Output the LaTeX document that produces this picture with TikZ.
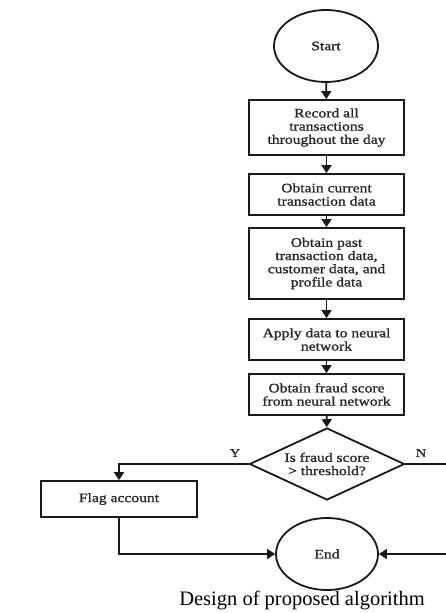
\documentclass[tikz,border=0pt]{standalone}
\usepackage{fontspec}
\setmainfont{Liberation Serif}
\newfontfamily\boxfont[FakeStretch=1.2,FakeBold=1.2]{Liberation Serif}
\usetikzlibrary{shapes.geometric,arrows.meta}
\begin{document}
\begin{tikzpicture}[x=1pt,y=-1pt,
  every node/.style={inner sep=0pt},
  base/.style={draw=black!90,line width=1.8pt,align=center,
    font=\boxfont\fontsize{13}{13.2}\selectfont,text=black!85},
  procbox/.style={base,rectangle,minimum width=155pt},
  term/.style={base,ellipse,minimum width=104pt,minimum height=72pt},
  decide/.style={base,diamond,aspect=2.15,minimum width=155pt,minimum height=72pt},
  flow/.style={draw=black!90,line width=1.8pt,-{Triangle[length=8pt,width=10pt]}},
  lbl/.style={font=\boxfont\fontsize{12}{12}\selectfont,text=black!85}]
\useasboundingbox (0,0) rectangle (446,613);
\node[term] (start) at (326,46) {Start};
\node[procbox,minimum height=55pt] (b1) at (326.5,127.5) {Record all\\transactions\\throughout the day};
\node[procbox,minimum height=41pt] (b2) at (326.5,194.5) {Obtain current\\transaction data};
\node[procbox,minimum height=71pt] (b3) at (326.5,263.5) {Obtain past\\transaction data,\\customer data, and\\profile data};
\node[procbox,minimum height=41pt] (b4) at (326.5,339.5) {Apply data to neural\\network};
\node[procbox,minimum height=41pt] (b5) at (326.5,394.5) {Obtain fraud score\\from neural network};
\node[decide] (dec) at (327,464) {Is fraud score\\> threshold?};
\node[procbox,minimum width=156pt,minimum height=36pt] (flag) at (119,499) {Flag account};
\node[term,minimum width=102pt] (end) at (327,554) {End};
\node[lbl] (ylab) at (235,453) {Y};
\node[lbl] (nlab) at (421,453) {N};
\node[font=\fontsize{20.5}{24}\selectfont] (cap) at (302,600) {Design of proposed algorithm};
\coordinate (nr1) at (450,464);
\coordinate (nr2) at (450,554);
\draw[flow] (start) -- (b1);
\draw[flow] (b1) -- (b2);
\draw[flow] (b2) -- (b3);
\draw[flow] (b3) -- (b4);
\draw[flow] (b4) -- (b5);
\draw[flow] (b5) -- (dec);
\draw[flow] (dec.west) -| (flag.north);
\draw[flow] (flag.south) |- (end.west);
\draw[flow] (dec.east) -- (nr1) -- (nr2) -- (end.east);
\end{tikzpicture}
\end{document}
